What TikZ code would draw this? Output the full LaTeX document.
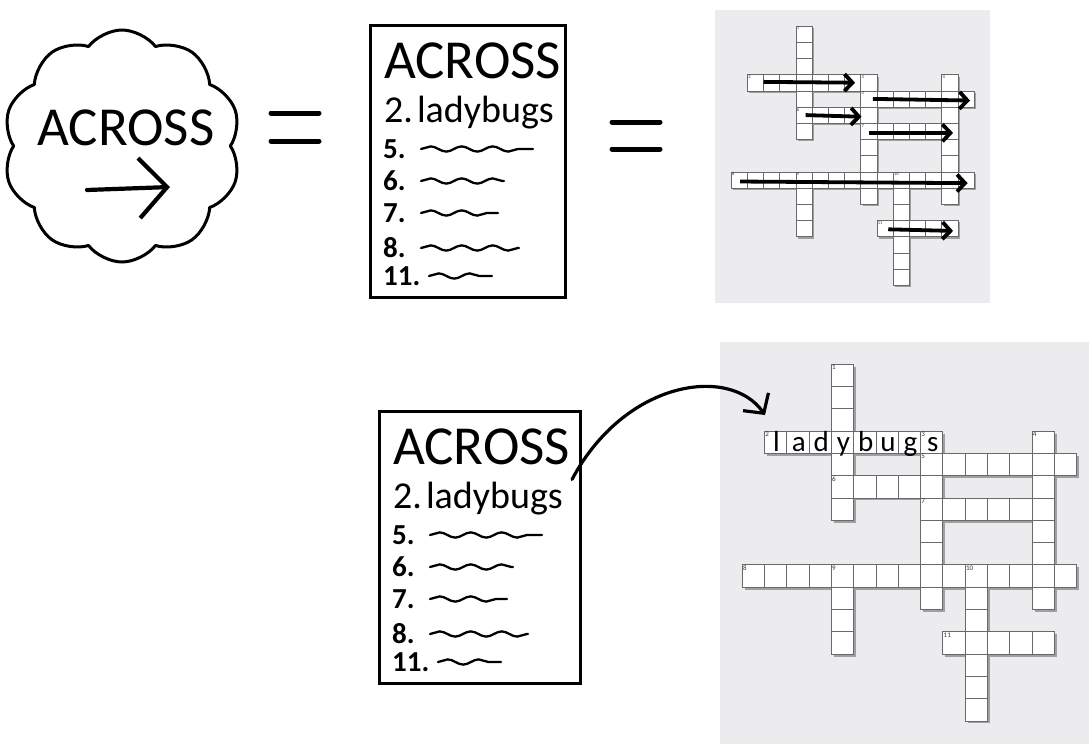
\documentclass[tikz,border=0pt]{standalone}
\usepackage{fontspec}
\setmainfont{Carlito}
\usepackage{xcolor}
\usetikzlibrary{shapes.symbols, arrows.meta, decorations.pathmorphing}

\definecolor{panelgray}{RGB}{236,236,238}
\definecolor{cellline}{RGB}{105,105,108}
\definecolor{cellshadow}{RGB}{160,160,164}

\tikzset{
	hand/.style={line width=3pt, line cap=round, line join=round},
	equalsign/.style={line width=5pt, line cap=round},
	listbox/.style={draw, line width=2.8pt, anchor=north west, inner sep=0pt, minimum height=272pt},
	listtext/.style={inner sep=0pt, anchor=base west},
	bigword/.style={font=\fontsize{55}{60}\selectfont},
	squiggle/.style={line width=2.3pt, line cap=round, decorate, decoration={snake, amplitude=2.6pt, segment length=31pt}},
	cwcell/.style={draw=cellline, fill=white, line width=0.6pt},
	cwnum/.style={anchor=north west, inner sep=0.8pt, text=black!80},
	cwarrow/.style={line width=3.8pt, -{Straight Barb[length=8pt, width=17pt]}},
	topgrid/.style={shift={(747.3,26)}, x=16.2pt, y=-16.2pt},
	botgrid/.style={shift={(764.3,364)}, x=22.3pt, y=-22.3pt}
}

% Hasla: kolumna/wiersz/dlugosc/dx/dy/numer
\newcommand{\cwwords}{3/0/7/0/1/1, 0/3/8/1/0/2, 7/3/8/0/1/3, 12/3/8/0/1/4, 7/4/7/1/0/5, 3/5/5/1/0/6, 7/6/6/1/0/7, -1/9/15/1/0/8, 3/9/4/0/1/9, 9/9/7/0/1/10, 8/12/5/1/0/11}

% Krzyzowka: #1 styl siatki, #2 rozmiar numerow
\newcommand{\crossgrid}[2]{%
	\begin{scope}[#1]
		\foreach \col/\row/\len/\dx/\dy/\num in \cwwords
			\fill[cellshadow] ({\col+0.12},{\row+0.12}) rectangle ++({\len*\dx+\dy},{\len*\dy+\dx});
		\foreach \col/\row/\len/\dx/\dy/\num in \cwwords {
			\foreach \i in {1,...,\len}
				\draw[cwcell] ({\col+(\i-1)*\dx},{\row+(\i-1)*\dy}) rectangle ++(1,1);
			\node[cwnum, font=\fontsize{#2}{#2}\selectfont] (#1n\num) at (\col,\row) {\num};
		}
	\end{scope}}

% Lista hasel: #1 nazwa, #2 lewy gorny rog, #3 szerokosc
\newcommand{\acrosslist}[3]{%
	\begin{scope}[shift={#2}]
		\node[listbox, minimum width=#3] (#1box) at (0,0) {};
		\node[listtext, bigword] (#1title) at (15,54) {ACROSS};
		\node[listtext, font=\fontsize{38}{40}\selectfont] (#1word) at (15,98) {2.\hspace{4pt}ladybugs};
		\foreach \num/\y/\xa/\xb in {5/125/52/164, 6/157/52/135, 7/189/52/129, 8/224/52/150, 11/252/60/123} {
			\node[anchor=west, inner sep=0pt, font=\bfseries\fontsize{29}{29}\selectfont] (#1num\num) at (14,\y) {\num.};
			\coordinate (#1start\num) at (\xa,\y);
			\coordinate (#1end\num) at (\xb,\y);
			\draw[squiggle] (#1start\num) -- (#1end\num);
		}
	\end{scope}}

\begin{document}
\begin{tikzpicture}[x=1pt, y=-1pt]
	\useasboundingbox (0,0) rectangle (1089,744);

	% Tla krzyzowek
	\fill[panelgray] (715,10) rectangle (990,303);
	\fill[panelgray] (720,342) rectangle (1089,744);

	% Chmurka
	\node[cloud, draw, hand, cloud puffs=10, cloud puff arc=105, aspect=1, minimum width=238pt, minimum height=232pt] (cloud) at (122,146) {};
	\node[inner sep=0pt, anchor=base, bigword] (cloudword) at (126,145) {ACROSS};
	\coordinate (cloudtail) at (87,190);
	\coordinate (cloudtip) at (170,187);
	\draw[hand, line width=4.2pt, -{Straight Barb[length=28pt, width=60pt]}] (cloudtail) -- (cloudtip);

	% Znaki rownosci
	\foreach \x/\ya/\yb in {271/113/141, 612/122/149} {
		\draw[equalsign] (\x,\ya) -- ++(48,0);
		\draw[equalsign] (\x,\yb) -- ++(48,0);
	}

	% Listy
	\acrosslist{top}{(369,24)}{195pt}
	\acrosslist{bot}{(378,410)}{201pt}

	% Gorna krzyzowka ze strzalkami
	\crossgrid{topgrid}{4.5}
	\begin{scope}[topgrid]
		\foreach \num/\xa/\ya/\xb/\yb in {2/1/3.45/6.65/3.5, 5/7.75/4.5/13.75/4.6, 6/3.6/5.5/7.05/5.6, 7/7.5/6.6/12.7/6.6, 8/-0.45/9.6/13.6/9.7, 11/8.7/12.55/12.7/12.65} {
			\coordinate (a\num s) at (\xa,\ya);
			\coordinate (a\num e) at (\xb,\yb);
			\draw[cwarrow] (a\num s) -- (a\num e);
		}
	\end{scope}

	% Dolna krzyzowka z wpisanym haslem
	\crossgrid{botgrid}{7}
	\begin{scope}[botgrid]
		\foreach \i/\ch in {0/l, 1/a, 2/d, 3/y, 4/b, 5/u, 6/g, 7/s}
			\node[inner sep=0pt, anchor=base, font=\fontsize{29}{29}\selectfont] (let\i) at (\i+0.55,3.93) {\ch};
	\end{scope}

	% Strzalka od hasla do krzyzowki
	\coordinate (landing) at (765,415);
	\draw[hand, line width=3.2pt, -{Straight Barb[length=14pt, width=31pt]}] ([shift={(9pt,2pt)}]botword.north east) .. controls (625,380) and (730,365) .. (landing);
\end{tikzpicture}
\end{document}
